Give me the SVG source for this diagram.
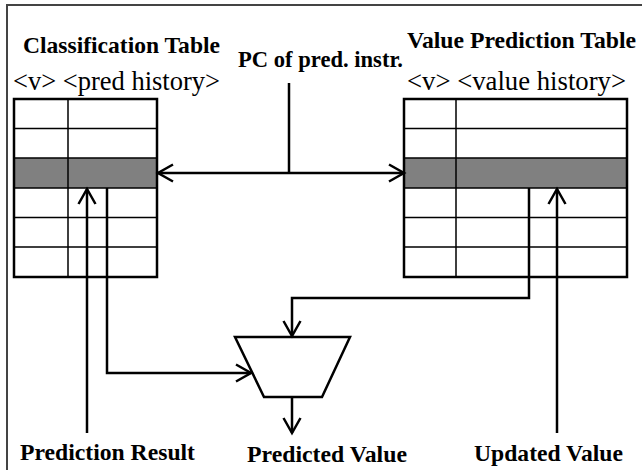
<svg xmlns="http://www.w3.org/2000/svg" width="642" height="470" viewBox="0 0 642 470">
  <style>
    .frame { fill: none; stroke: #444444; stroke-width: 2; }
    .outer { fill: none; stroke: #000; stroke-width: 2.5; }
    .inner { fill: none; stroke: #000; stroke-width: 1.5; }
    .hl { fill: #808080; stroke: none; }
    .conn { fill: none; stroke: #000; stroke-width: 2.5; }
    .bold { font-family: "Liberation Serif", "Times New Roman", serif; font-weight: bold; font-size: 23.3px; fill: #000; }
    .reg { font-family: "Liberation Serif", "Times New Roman", serif; font-size: 27px; fill: #000; }
    .mux { fill: #fff; stroke: #000; stroke-width: 2.5; stroke-linejoin: miter; }
  </style>
  <defs>
    <marker id="arr" markerUnits="userSpaceOnUse" markerWidth="24" markerHeight="24" viewBox="-18 -12 24 24" refX="0" refY="0" orient="auto-start-reverse">
      <path d="M-15,-8.5 L0,0 L-15,8.5" fill="none" stroke="#000" stroke-width="2.5"/>
    </marker>
  </defs>
  <rect width="642" height="470" fill="#fff"/>
  <path class="frame" d="M7,470 L7,5 L642,5"/>

  <g id="classification-table">
    <text class="bold" x="23" y="53" textLength="197" lengthAdjust="spacingAndGlyphs">Classification Table</text>
    <text class="reg" x="13" y="90" textLength="207" lengthAdjust="spacingAndGlyphs">&lt;v&gt; &lt;pred history&gt;</text>
    <rect class="hl" x="14" y="158" width="143" height="30"/>
    <path class="inner" d="M14,128.5 H157 M14,158 H157 M14,188 H157 M14,217.5 H157 M14,247 H157 M68,99 V277"/>
    <rect class="outer" x="14" y="99" width="143" height="178"/>
  </g>

  <g id="value-prediction-table">
    <text class="bold" x="407" y="48" textLength="229" lengthAdjust="spacingAndGlyphs">Value Prediction Table</text>
    <text class="reg" x="407" y="90" textLength="219" lengthAdjust="spacingAndGlyphs">&lt;v&gt; &lt;value history&gt;</text>
    <rect class="hl" x="404" y="158" width="223" height="30"/>
    <path class="inner" d="M404,128.5 H627 M404,158 H627 M404,188 H627 M404,217.5 H627 M404,247 H627 M456,99 V277"/>
    <rect class="outer" x="404" y="99" width="223" height="178"/>
  </g>

  <g id="mux">
    <polygon class="mux" points="235,337 350,337 322,397 264,397"/>
  </g>

  <g id="labels">
    <text class="bold" x="238" y="67" textLength="165" lengthAdjust="spacingAndGlyphs">PC of pred. instr.</text>
    <text class="bold" x="20" y="460" textLength="175" lengthAdjust="spacingAndGlyphs">Prediction Result</text>
    <text class="bold" x="247" y="462" textLength="160" lengthAdjust="spacingAndGlyphs">Predicted Value</text>
    <text class="bold" x="474" y="461" textLength="149" lengthAdjust="spacingAndGlyphs">Updated Value</text>
  </g>

  <g id="connectors">
    <line class="conn" x1="158" y1="173" x2="404" y2="173" marker-start="url(#arr)" marker-end="url(#arr)"/>
    <line class="conn" x1="289" y1="83" x2="289" y2="173"/>
    <line class="conn" x1="87" y1="433" x2="87" y2="189" marker-end="url(#arr)"/>
    <polyline class="conn" points="107,188 107,373 251,373" marker-end="url(#arr)"/>
    <polyline class="conn" points="529,188 529,298 292,298 292,336" marker-end="url(#arr)"/>
    <line class="conn" x1="557" y1="433" x2="557" y2="189" marker-end="url(#arr)"/>
    <line class="conn" x1="292" y1="397" x2="292" y2="433" marker-end="url(#arr)"/>
  </g>
</svg>
